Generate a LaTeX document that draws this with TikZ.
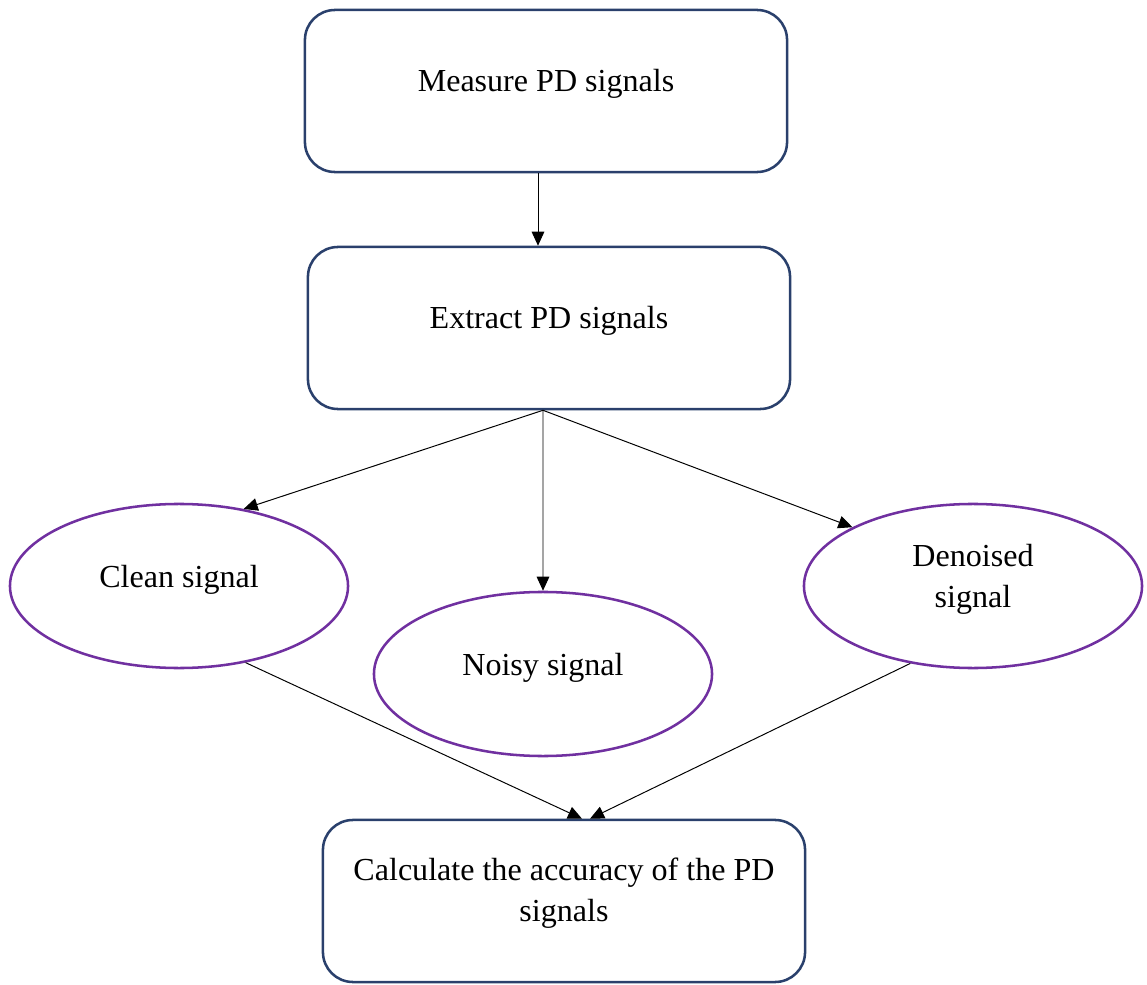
\documentclass[tikz,border=0pt]{standalone}
\usepackage{fontspec}
\setmainfont{Liberation Serif}
\usetikzlibrary{shapes.geometric,arrows.meta}
\definecolor{boxblue}{RGB}{42,64,108}
\definecolor{ovalpurple}{RGB}{112,48,160}
\begin{document}
\begin{tikzpicture}[x=0.025cm,y=-0.025cm,
    every node/.style={font=\fontsize{22.8}{29}\selectfont},
    stepbox/.style={draw=boxblue,line width=1.8pt,rounded corners=0.75cm,
        minimum width=12.05cm,minimum height=4.05cm,align=center,text depth=0.55cm},
    signal/.style={ellipse,draw=ovalpurple,line width=1.8pt,inner sep=0pt,
        minimum width=8.45cm,minimum height=4.1cm,align=center,text depth=0.5cm},
    flow/.style={-{Triangle[length=10pt,width=9pt]},line width=0.7pt}]
        % Page frame
        \useasboundingbox (0,0) rectangle (1147,985);

        % Process boxes
        \node[stepbox] (measure) at (546,91) {Measure PD signals};
        \node[stepbox] (extract) at (549,328) {Extract PD signals};
        \node[stepbox] (calc) at (564,901) {Calculate the accuracy of the PD\\signals};

        % Signal ovals
        \node[signal] (clean) at (179,586) {Clean signal};
        \node[signal] (noisy) at (543,674) {Noisy signal};
        \node[signal] (denoised) at (973,586) {Denoised\\signal};

        % Arrows
        \coordinate (fork) at ([xshift=-0.15cm]extract.south);
        \draw[flow] ([xshift=-0.2cm]measure.south) -- ([xshift=-0.2cm]measure.south |- extract.north);
        \draw[flow] (fork) -- (clean.50);
        \draw[flow] (fork) -- (noisy.north);
        \draw[flow] (fork) -- (denoised.154);
        \draw[flow] (clean.-49) -- ([xshift=0.45cm]calc.north);
        \draw[flow] (denoised.231) -- ([xshift=0.65cm]calc.north);
    \end{tikzpicture}
\end{document}
